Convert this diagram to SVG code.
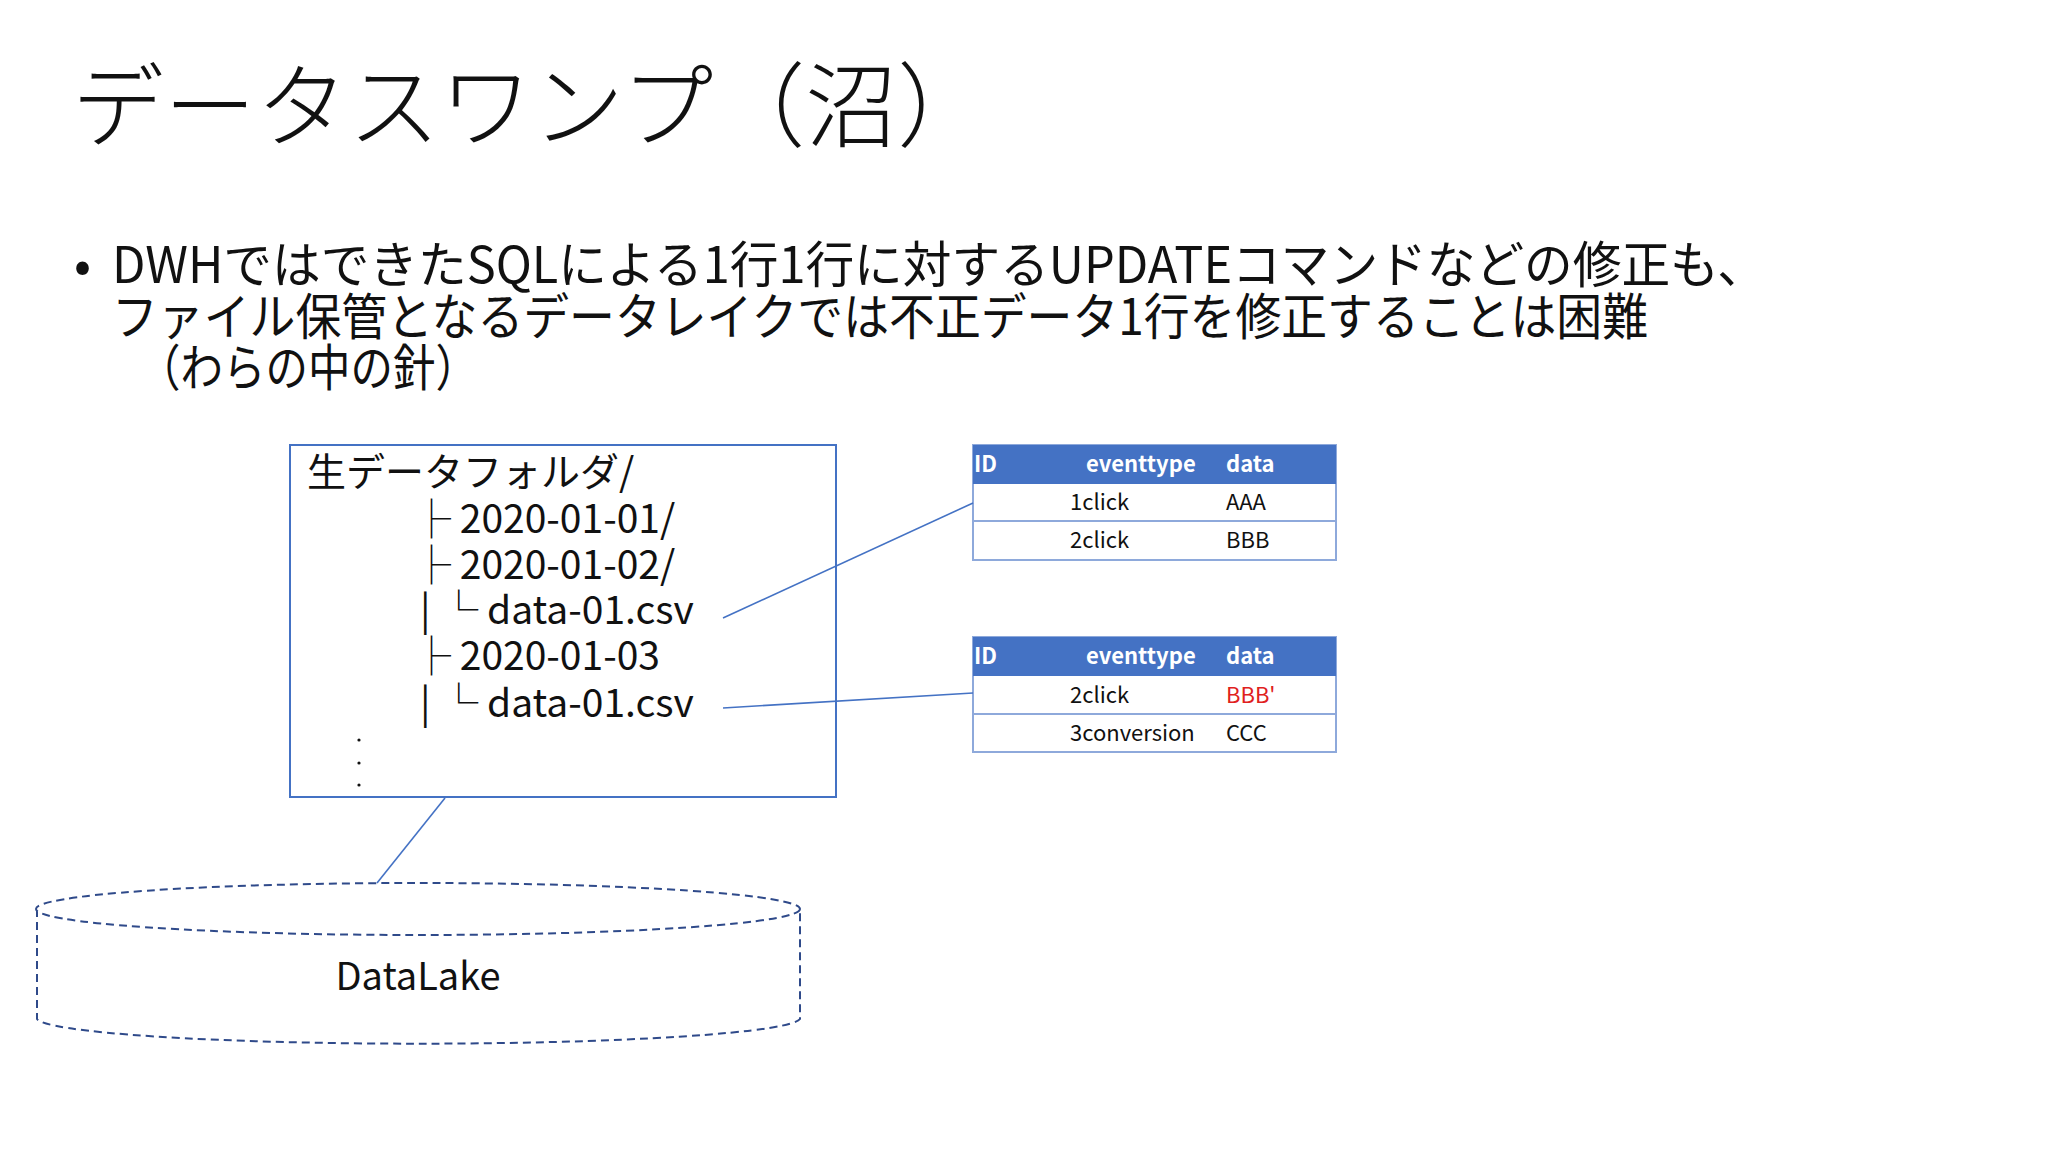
<svg xmlns="http://www.w3.org/2000/svg" width="2048" height="1152" viewBox="0 0 2048 1152">
<style>
text{font-family:"Noto Sans CJK JP","Noto Sans",sans-serif;fill:#111}
.t{font-size:39px}
.h{font-size:22px;font-weight:bold;fill:#fff}
.c{font-size:22px}
.line{stroke:#4472C4;stroke-width:1.6;fill:none}
.tb{fill:#fff;stroke:#8EA9DB;stroke-width:2}
</style>
<rect width="2048" height="1152" fill="#fff"/>
<text x="72" y="140" style="font-size:92px" font-weight="300">データスワンプ（沼）</text>
<g id="bullet" style="font-size:50px">
<text x="74" y="283">•</text>
<text x="112" y="283" textLength="1654" lengthAdjust="spacingAndGlyphs">DWHではできたSQLによる1行1行に対するUPDATEコマンドなどの修正も、</text>
<text x="112" y="335" textLength="1536" lengthAdjust="spacingAndGlyphs">ファイル保管となるデータレイクでは不正データ1行を修正することは困難</text>
<text x="138" y="386" textLength="340" lengthAdjust="spacingAndGlyphs">（わらの中の針）</text>
</g>
<g id="folder">
<rect x="290" y="445" width="546" height="352" fill="#fff" stroke="#4472C4" stroke-width="2"/>
<text class="t" x="307" y="486">生データフォルダ/</text>
<text class="t" x="412" y="533">├ 2020-01-01/</text>
<text class="t" x="412" y="579">├ 2020-01-02/</text>
<text class="t" x="420" y="624">|  └ data-01.csv</text>
<text class="t" x="412" y="670">├ 2020-01-03</text>
<text class="t" x="420" y="717">|  └ data-01.csv</text>
<circle cx="359" cy="740" r="1.6" fill="#111"/><circle cx="359" cy="763" r="1.6" fill="#111"/><circle cx="359" cy="785" r="1.6" fill="#111"/>
</g>
<g id="table1">
<rect class="tb" x="973" y="445" width="363" height="115"/>
<rect x="973" y="445" width="363" height="39" fill="#4472C4"/>
<line x1="973" y1="521" x2="1336" y2="521" stroke="#8EA9DB" stroke-width="2"/>
<text class="h" x="974" y="472">ID</text><text class="h" x="1086" y="472">eventtype</text><text class="h" x="1226" y="472">data</text>
<text class="c" x="1070" y="510">1click</text><text class="c" x="1226" y="510">AAA</text>
<text class="c" x="1070" y="548">2click</text><text class="c" x="1226" y="548">BBB</text>
</g>
<g id="table2">
<rect class="tb" x="973" y="637" width="363" height="115"/>
<rect x="973" y="637" width="363" height="39" fill="#4472C4"/>
<line x1="973" y1="714" x2="1336" y2="714" stroke="#8EA9DB" stroke-width="2"/>
<text class="h" x="974" y="664">ID</text><text class="h" x="1086" y="664">eventtype</text><text class="h" x="1226" y="664">data</text>
<text class="c" x="1070" y="703">2click</text><text class="c" x="1226" y="703" style="fill:#E02020">BBB'</text>
<text class="c" x="1070" y="741">3conversion</text><text class="c" x="1226" y="741">CCC</text>
</g>
<g id="datalake">
<path d="M37 909 V1019 A382 26 0 0 0 800 1019 V909" fill="#fff" stroke="#2F4A8A" stroke-width="2" stroke-dasharray="8 5"/>
<ellipse cx="418" cy="909" rx="382" ry="26" fill="#fff" stroke="#2F4A8A" stroke-width="2" stroke-dasharray="8 5"/>
<text x="418" y="990" text-anchor="middle" style="font-size:38px">DataLake</text>
</g>
<g id="connectors">
<line class="line" x1="723" y1="618" x2="973" y2="503"/>
<line class="line" x1="723" y1="708" x2="973" y2="693"/>
<line class="line" x1="445" y1="798" x2="377" y2="883"/>
</g>
</svg>
